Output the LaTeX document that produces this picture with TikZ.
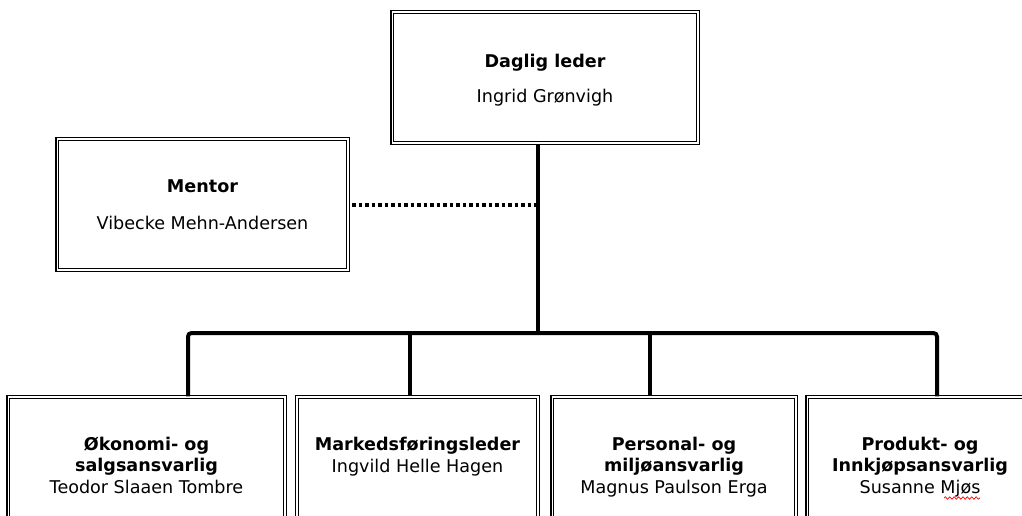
\documentclass[tikz,border=0pt]{standalone}
\usepackage{fontspec}
\setmainfont{DejaVu Sans}
\usetikzlibrary{positioning,decorations.pathmorphing}
\newcommand\tittelfont{\bfseries\fontsize{10}{12.2}\selectfont}
\tikzset{
  boks/.style={draw, double, double distance=0.6pt, line width=0.75pt, inner sep=0pt},
  tekst/.style={align=center, anchor=base, inner sep=0pt, font=\fontsize{10}{12.2}\selectfont},
  linje/.style={line width=0.08cm},
  prikk/.style={line width=0.08cm, dash pattern=on 0.07cm off 0.06cm},
}

\begin{document}
\begin{tikzpicture}[x=0.02cm,y=-0.02cm]
  \useasboundingbox (0,0) rectangle (1022,515);

  % Boxes
  \node[boks, minimum width=6.12cm, minimum height=2.62cm] (leder) at (545,77.5) {};
  \node[boks, minimum width=5.82cm, minimum height=2.62cm] (mentor) at (202.5,204.5) {};
  \node[boks, minimum width=5.54cm, minimum height=3.26cm] (okonomi) at (146.5,478.5) {};
  \node[boks, minimum width=4.82cm, minimum height=3.26cm] (marked) at (417.5,478.5) {};
  \node[boks, minimum width=4.88cm, minimum height=3.26cm] (personal) at (674,478.5) {};
  \node[boks, minimum width=4.52cm, minimum height=3.26cm] (produkt) at (920,478.5) {};

  % Texts (base = last line)
  \node[tekst] (lederTekst) at (545,102) {{\tittelfont Daglig leder}\\[7.6pt]Ingrid Grønvigh};
  \node[tekst] (mentorTekst) at (202.5,229) {{\tittelfont Mentor}\\[8.8pt]Vibecke Mehn-Andersen};
  \node[tekst] (okonomiTekst) at (146.5,493) {{\tittelfont Økonomi- og}\\{\tittelfont salgsansvarlig}\\Teodor Slaaen Tombre};
  \node[tekst] (markedTekst) at (417.5,472) {{\tittelfont Markedsføringsleder}\\Ingvild Helle Hagen};
  \node[tekst] (personalTekst) at (674,493) {{\tittelfont Personal- og}\\{\tittelfont miljøansvarlig}\\Magnus Paulson Erga};
  \node[tekst] (produktTekst) at (920,493) {{\tittelfont Produkt- og}\\{\tittelfont Innkjøpsansvarlig}\\Susanne Mjøs};

  % Lines
  \coordinate (hub) at (538,333);
  \coordinate (g1) at (188,333);
  \coordinate (g2) at (410,333);
  \coordinate (g3) at (650,333);
  \coordinate (g4) at (937,333);
  \draw[linje] (leder.south -| hub) -- (hub);
  \draw[linje, rounded corners=2pt] (g1 |- okonomi.north) -- (g1) -- (g4) -- (g4 |- produkt.north);
  \draw[linje] (g2) -- (g2 |- marked.north);
  \draw[linje] (g3) -- (g3 |- personal.north);
  \draw[prikk] ([xshift=2pt]mentor.east) -- (mentor.east -| hub);

  % Spelling mark
  \draw[red, line width=0.4pt, decorate, decoration={snake, amplitude=0.7pt, segment length=2.5pt}] (944,498) -- (980,498);
\end{tikzpicture}
\end{document}
